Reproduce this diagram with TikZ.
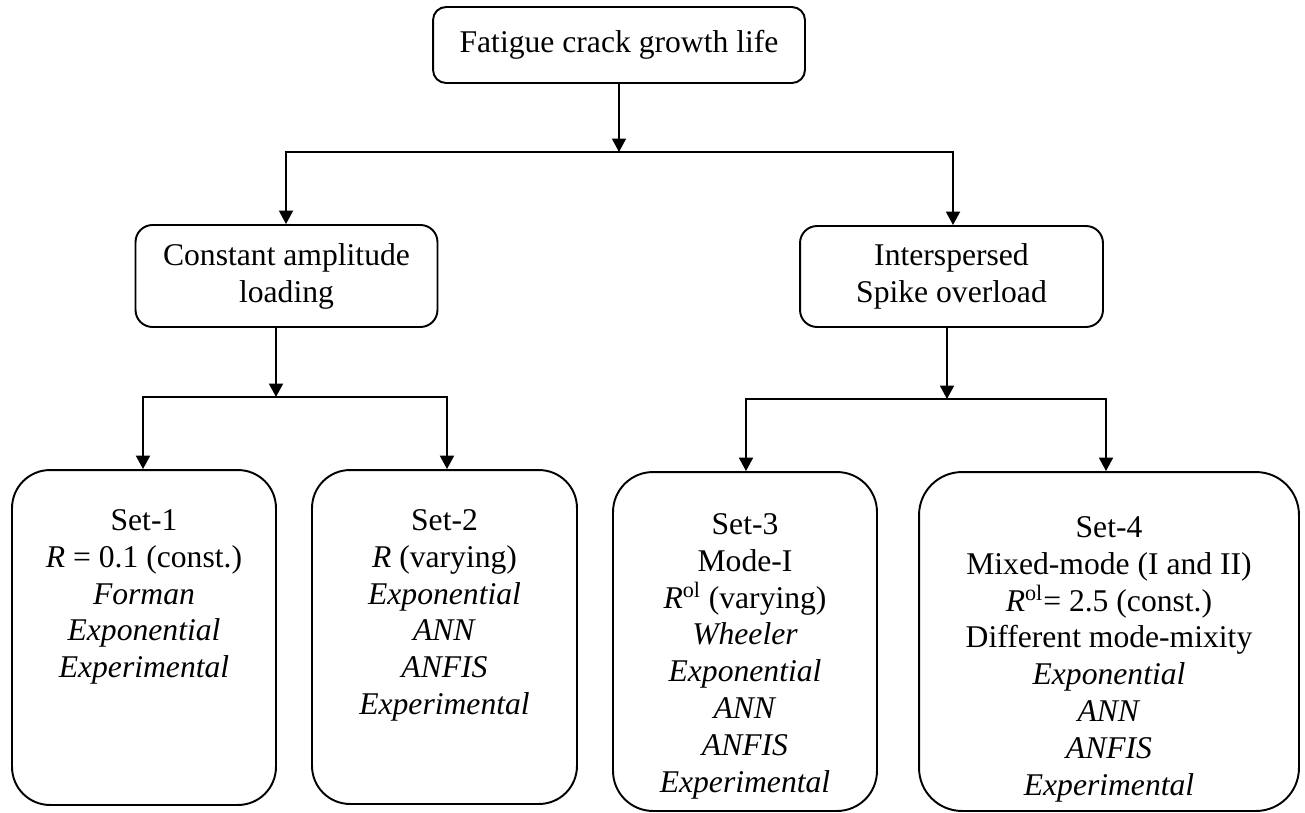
\documentclass[tikz,border=0pt]{standalone}
\usepackage{fontspec}
\setmainfont{Liberation Serif}
\usetikzlibrary{arrows.meta}
\begin{document}
\begin{tikzpicture}[x=0.02cm,y=-0.02cm,
  every node/.style={font=\fontsize{18}{21}\selectfont},
  box/.style={draw, line width=1.1pt, inner sep=0pt, align=center},
  tip/.tip={Triangle[length=0.27cm,width=0.28cm]},
  arr/.style={-tip, line width=1.1pt},
  dbl/.style={tip-tip, line width=1.1pt},
  txt/.style={anchor=north, inner sep=0pt, align=center}]
\useasboundingbox (0,0) rectangle (1305,812);

% boxes
\node[box, rounded corners=0.26cm, minimum width=7.44cm, minimum height=1.52cm] (top) at (619,45) {Fatigue crack growth life};
\node[box, rounded corners=0.34cm, minimum width=6.04cm, minimum height=2.04cm] (ca) at (286.5,276) {Constant amplitude\\loading};
\node[box, rounded corners=0.34cm, minimum width=6.06cm, minimum height=2.02cm] (is) at (951.5,276.5) {Interspersed\\Spike overload};

\node[box, rounded corners=0.76cm, minimum width=5.28cm, minimum height=6.70cm] (s1) at (144,637.5) {};
\node[box, rounded corners=0.76cm, minimum width=5.30cm, minimum height=6.68cm] (s2) at (444.5,637) {};
\node[box, rounded corners=0.80cm, minimum width=5.28cm, minimum height=6.78cm] (s3) at (745,641.5) {};
\node[box, rounded corners=0.86cm, minimum width=7.60cm, minimum height=6.78cm] (s4) at (1109,641.5) {};

% texts
\node[txt] (t1) at (144,509) {Set-1\\\textit{R} = 0.1 (const.)\\\textit{Forman}\\\textit{Exponential}\\\textit{Experimental}};
\node[txt] (t2) at (444.5,509) {Set-2\\\textit{R} (varying)\\\textit{Exponential}\\\textit{ANN}\\\textit{ANFIS}\\\textit{Experimental}};
\node[txt] (t3) at (745,513) {Set-3\\Mode-I\\\textit{R}\textsuperscript{ol} (varying)\\\textit{Wheeler}\\\textit{Exponential}\\\textit{ANN}\\\textit{ANFIS}\\\textit{Experimental}};
\node[txt] (t4) at (1109,516) {Set-4\\Mixed-mode (I and II)\\\textit{R}\textsuperscript{ol}= 2.5 (const.)\\Different mode-mixity\\\textit{Exponential}\\\textit{ANN}\\\textit{ANFIS}\\\textit{Experimental}};

% junction coordinates
\coordinate (j1) at (619,152);
\coordinate (h1L) at (286,152);
\coordinate (h1R) at (953,152);
\coordinate (j2) at (276,397);
\coordinate (h2L) at (143,397);
\coordinate (h2R) at (447,397);
\coordinate (j3) at (947,399);
\coordinate (h3L) at (746,399);
\coordinate (h3R) at (1106,399);

% connectors
\draw[arr] (top.south) -- (j1);
\draw[dbl] (h1L |- ca.north) -- (h1L) -- (h1R) -- (h1R |- is.north);

\draw[arr] (ca.south -| j2) -- (j2);
\draw[dbl] (h2L |- s1.north) -- (h2L) -- (h2R) -- (h2R |- s2.north);

\draw[arr] (is.south -| j3) -- (j3);
\draw[dbl] (h3L |- s3.north) -- (h3L) -- (h3R) -- (h3R |- s4.north);
\end{tikzpicture}
\end{document}
